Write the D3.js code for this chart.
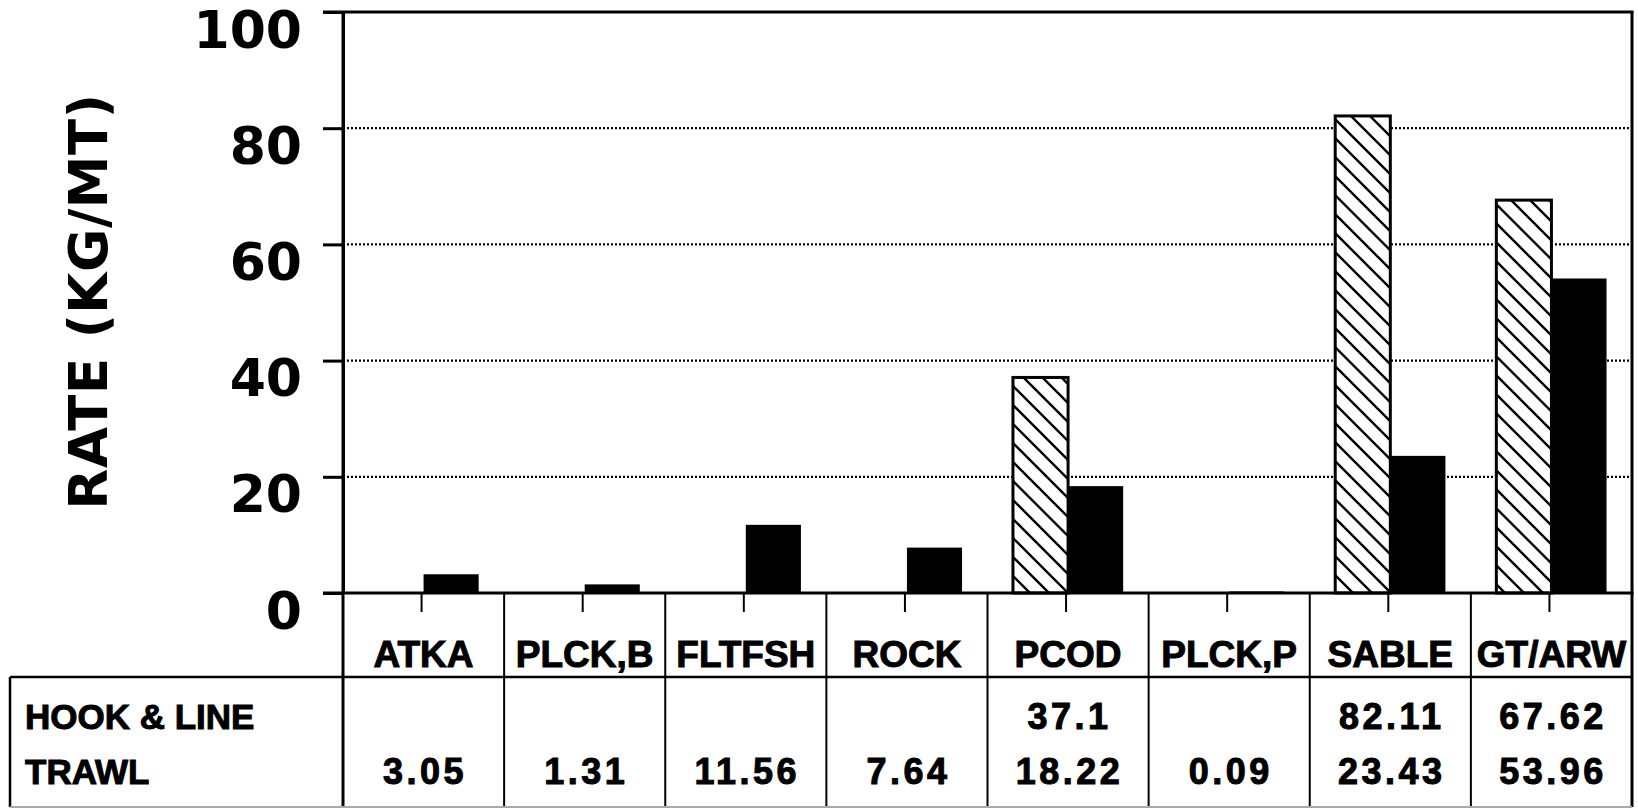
<!DOCTYPE html>
<html>
<head>
<meta charset="utf-8">
<script src="https://cdn.jsdelivr.net/npm/d3@7"></script>
<style>
  html, body { margin: 0; padding: 0; background: #fff; }
  svg { display: block; }
</style>
</head>
<body>
<script>
// ---- data ----
const categories = ["ATKA", "PLCK,B", "FLTFSH", "ROCK", "PCOD", "PLCK,P", "SABLE", "GT/ARW"];
const hookLine = [null, null, null, null, 37.1, null, 82.11, 67.62];
const trawl = [3.05, 1.31, 11.56, 7.64, 18.22, 0.09, 23.43, 53.96];
const hookLineLabels = ["", "", "", "", "37.1", "", "82.11", "67.62"];
const trawlLabels = ["3.05", "1.31", "11.56", "7.64", "18.22", "0.09", "23.43", "53.96"];
const seriesNames = ["HOOK & LINE", "TRAWL"];
const yTicks = [0, 20, 40, 60, 80, 100];
const yTitle = "RATE (KG/MT)";

// ---- layout ----
const W = 1638, H = 809;
const plot = { left: 343, right: 1632, top: 12, bottom: 593 };
const tableTop = 677, tableBottom = 807, tableLeft = 10;

const svg = d3.select("body").append("svg").attr("width", W).attr("height", H);

const x = d3.scaleBand().domain(categories).range([plot.left, plot.right]).padding(0);
const y = d3.scaleLinear().domain([0, 100]).range([plot.bottom, plot.top]);
const barW = x.bandwidth() * 0.342;

// hatch pattern
const defs = svg.append("defs");
const pat = defs.append("pattern").attr("id", "hatch").attr("patternUnits", "userSpaceOnUse")
  .attr("width", 19).attr("height", 19);
pat.append("rect").attr("width", 19).attr("height", 19).attr("fill", "#fff");
pat.append("path").attr("d", "M0,0 L19,19 M-2,17 L2,21 M17,-2 L21,2")
  .attr("stroke", "#000").attr("stroke-width", 2.4);

// gridlines
svg.append("g").selectAll("line").data(yTicks.filter(d => d > 0 && d < 100)).join("line")
  .attr("x1", plot.left).attr("x2", plot.right)
  .attr("y1", d => y(d)).attr("y2", d => y(d))
  .attr("stroke", "#000").attr("stroke-width", 2.2).attr("stroke-dasharray", "2,2");

// bars: hook & line (hatched)
svg.append("g").selectAll("rect").data(categories.map((c, i) => ({ c, v: hookLine[i] })).filter(d => d.v != null))
  .join("rect")
  .attr("x", d => x(d.c) + x.bandwidth() / 2 - barW)
  .attr("y", d => y(d.v))
  .attr("width", barW)
  .attr("height", d => y(0) - y(d.v))
  .attr("fill", "url(#hatch)").attr("stroke", "#000").attr("stroke-width", 3);

// bars: trawl (solid)
svg.append("g").selectAll("rect").data(categories.map((c, i) => ({ c, v: trawl[i] })))
  .join("rect")
  .attr("x", d => x(d.c) + x.bandwidth() / 2)
  .attr("y", d => y(d.v) - 1)
  .attr("width", barW)
  .attr("height", d => y(0) - y(d.v) + 1)
  .attr("fill", "#000");

// frame top & right
svg.append("line").attr("x1", plot.left - 20).attr("x2", plot.right + 1.5)
  .attr("y1", plot.top).attr("y2", plot.top).attr("stroke", "#000").attr("stroke-width", 3);
svg.append("line").attr("x1", plot.right).attr("x2", plot.right)
  .attr("y1", plot.top).attr("y2", tableBottom).attr("stroke", "#000").attr("stroke-width", 3);

// y axis
const yAxis = d3.axisLeft(y).tickValues(yTicks).tickSize(20).tickSizeOuter(0).tickFormat(d3.format("d"));
const gy = svg.append("g").attr("transform", `translate(${plot.left},0)`).call(yAxis);
gy.select(".domain").attr("stroke", "#000").attr("stroke-width", 3);
gy.selectAll(".tick line").attr("stroke", "#000").attr("stroke-width", 3);
gy.selectAll(".tick text")
  .attr("x", -41).attr("dy", null).attr("y", 35)
  .attr("font-family", "'DejaVu Sans', sans-serif").attr("font-weight", "bold")
  .attr("font-size", 52).attr("fill", "#000").attr("text-anchor", "end");
// extend y axis line down through table
svg.append("line").attr("x1", plot.left).attr("x2", plot.left)
  .attr("y1", plot.top).attr("y2", tableBottom).attr("stroke", "#000").attr("stroke-width", 3);

// y title
svg.append("text")
  .attr("transform", `translate(107,${(94 + 509) / 2}) rotate(-90)`)
  .attr("text-anchor", "middle")
  .attr("font-family", "'DejaVu Sans', sans-serif").attr("font-weight", "bold")
  .attr("font-size", 53).attr("letter-spacing", 0.5).attr("fill", "#000")
  .text(yTitle);

// x axis
const xAxis = d3.axisBottom(x).tickSize(19).tickSizeOuter(0).tickFormat("");
const gx = svg.append("g").attr("transform", `translate(0,${plot.bottom})`).call(xAxis);
gx.select(".domain").remove();
gx.selectAll(".tick line").attr("stroke", "#000").attr("stroke-width", 2).attr("transform", "translate(-2,0)");
svg.append("line").attr("x1", plot.left - 20).attr("x2", plot.right + 1.5)
  .attr("y1", plot.bottom).attr("y2", plot.bottom).attr("stroke", "#000").attr("stroke-width", 3);

// table grid
const bounds = categories.map(c => x(c)).concat([plot.right]);
svg.append("g").selectAll("line").data(bounds.slice(1, -1)).join("line")
  .attr("x1", d => d).attr("x2", d => d)
  .attr("y1", plot.bottom).attr("y2", tableBottom)
  .attr("stroke", "#000").attr("stroke-width", 2);
svg.append("line").attr("x1", tableLeft).attr("x2", plot.right)
  .attr("y1", tableTop).attr("y2", tableTop).attr("stroke", "#000").attr("stroke-width", 2.5);
svg.append("line").attr("x1", tableLeft).attr("x2", tableLeft)
  .attr("y1", tableTop).attr("y2", tableBottom).attr("stroke", "#000").attr("stroke-width", 2.5);
svg.append("line").attr("x1", tableLeft).attr("x2", plot.right)
  .attr("y1", tableBottom).attr("y2", tableBottom).attr("stroke", "#aaa").attr("stroke-width", 2);

const tfont = "'Liberation Sans', Arial, sans-serif";
// category labels
svg.append("g").selectAll("text").data(categories).join("text")
  .attr("x", d => x(d) + x.bandwidth() / 2)
  .attr("y", 667)
  .attr("text-anchor", "middle")
  .attr("font-family", tfont).attr("font-weight", "bold").attr("font-size", 37)
  .attr("stroke", "#000").attr("stroke-width", 1).attr("fill", "#000")
  .text(d => d);

// row labels
const rowY = [729, 784];
svg.append("g").selectAll("text").data(seriesNames).join("text")
  .attr("x", 25).attr("y", (d, i) => rowY[i])
  .attr("font-family", tfont).attr("font-weight", "bold").attr("font-size", 35)
  .attr("stroke", "#000").attr("stroke-width", 1).attr("fill", "#000")
  .text(d => d);

// values
[hookLineLabels, trawlLabels].forEach((labels, r) => {
  svg.append("g").selectAll("text").data(categories).join("text")
    .attr("x", d => x(d) + x.bandwidth() / 2 + 1.5)
    .attr("y", rowY[r])
    .attr("text-anchor", "middle")
    .attr("font-family", tfont).attr("font-weight", "bold").attr("font-size", 36)
    .attr("letter-spacing", 3.5)
    .attr("stroke", "#000").attr("stroke-width", 1).attr("fill", "#000")
    .text((d, i) => labels[i]);
});
</script>
</body>
</html>
